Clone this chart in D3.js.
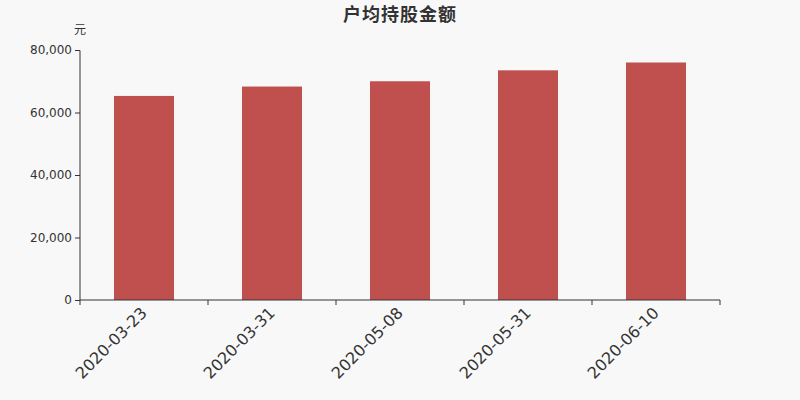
<!DOCTYPE html>
<html><head><meta charset="utf-8">
<script src="https://cdn.jsdelivr.net/npm/d3@7"></script>
<style>body{margin:0;background:#f8f8f8;}svg{display:block;}</style>
</head><body>
<svg id="c" width="800" height="400"></svg>
<script>
const categories = ["2020-03-23","2020-03-31","2020-05-08","2020-05-31","2020-06-10"];
const values = [65300, 68300, 70000, 73500, 76000];
const yTicks = [0, 20000, 40000, 60000, 80000];
const title = "户均持股金额";
const unit = "元";

const svg = d3.select("#c");
svg.append("rect").attr("width",800).attr("height",400).attr("fill","#f8f8f8");
const m = {l:80, r:720, t:50, b:300};
const x = d3.scaleBand().domain(categories).range([m.l, m.r]);
const y = d3.scaleLinear().domain([0, 80000]).range([m.b, m.t]);
const font = "'DejaVu Sans', sans-serif";

svg.append("text").attr("x",400).attr("y",21).attr("text-anchor","middle")
  .attr("font-family","'Noto Sans CJK SC', sans-serif").attr("font-weight","bold")
  .attr("font-size",18).attr("letter-spacing",1).attr("fill","#333").text(title);
svg.append("text").attr("x",80).attr("y",34).attr("text-anchor","middle")
  .attr("font-family","'Noto Sans CJK SC', sans-serif").attr("font-size",12)
  .attr("fill","#333").text(unit);

const bw = 60;
svg.append("g").selectAll("rect").data(values).join("rect")
  .attr("x",(d,i)=>x(categories[i]) + x.bandwidth()/2 - bw/2)
  .attr("y",d=>y(d)).attr("width",bw).attr("height",d=>y(0)-y(d))
  .attr("fill","#c0504d");

const ya = d3.axisLeft(y).tickValues(yTicks).tickSize(5).tickPadding(3).tickFormat(d3.format(","));
const gy = svg.append("g").attr("transform",`translate(${m.l},0)`).call(ya);
gy.selectAll(".tick line").attr("stroke","#333");
gy.selectAll("text").attr("font-family",font).attr("font-size",12).attr("fill","#333");
gy.select(".domain").attr("stroke","#333").attr("d",`M-5,${m.t+0.5}H0V${m.b}`);

const gx = svg.append("g").attr("transform",`translate(0,${m.b})`);
gx.append("line").attr("x1",m.l).attr("x2",m.r).attr("y1",0).attr("y2",0).attr("stroke","#333");
const bounds = categories.map(c=>x(c)).concat([m.r]);
gx.selectAll(".tk").data(bounds).join("line").attr("class","tk")
  .attr("x1",d=>d).attr("x2",d=>d).attr("y1",0).attr("y2",5).attr("stroke","#333");
gx.selectAll(".lb").data(categories).join("text").attr("class","lb")
  .attr("transform",c=>`translate(${x(c)+x.bandwidth()/2},${10}) rotate(-45)`)
  .attr("text-anchor","end").attr("dy","0.35em")
  .attr("font-family",font).attr("font-size",16).attr("fill","#333").text(c=>c);
</script>
</body></html>
